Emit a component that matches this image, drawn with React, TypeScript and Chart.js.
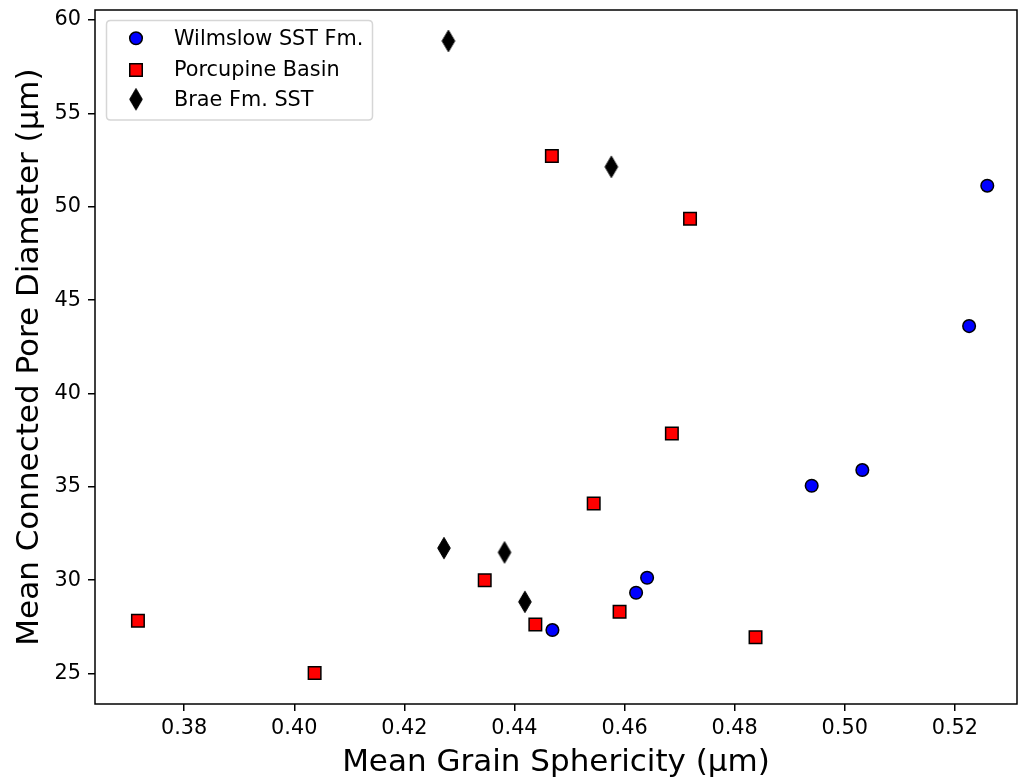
import React, { useEffect, useRef } from "react";
import { Chart, registerables } from "chart.js";

Chart.register(...registerables);

// ---- Data ----
const wilmslowX = [0.4469, 0.4621, 0.4641, 0.494, 0.5032, 0.5226, 0.5259];
const wilmslowY = [27.33, 29.33, 30.13, 35.06, 35.9, 43.61, 51.13];

const porcupineX = [0.3716, 0.4037, 0.4346, 0.4438, 0.4468, 0.4544, 0.4591, 0.4686, 0.4719, 0.4838];
const porcupineY = [27.83, 25.03, 30.0, 27.63, 52.72, 34.11, 28.31, 37.86, 49.36, 26.95];

const braeX = [0.4272, 0.428, 0.4382, 0.4419, 0.4576];
const braeY = [31.72, 58.88, 31.49, 28.84, 52.14];

const seriesNames = ["Wilmslow SST Fm.", "Porcupine Basin", "Brae Fm. SST"];

const xTicks = [0.38, 0.4, 0.42, 0.44, 0.46, 0.48, 0.5, 0.52];
const yTicks = [25, 30, 35, 40, 45, 50, 55, 60];

const xRange = [0.3638, 0.5313];
const yRange = [23.37, 60.54];

const xTitle = "Mean Grain Sphericity (µm)";
const yTitle = "Mean Connected Pore Diameter (µm)";

const FONT = "'DejaVu Sans', 'Liberation Sans', sans-serif";

function makeDiamond(): HTMLCanvasElement {
  const c = document.createElement("canvas");
  c.width = 16;
  c.height = 24;
  const g = c.getContext("2d")!;
  g.fillStyle = "#000";
  g.strokeStyle = "#000";
  g.lineWidth = 1;
  g.beginPath();
  g.moveTo(8, 1.3);
  g.lineTo(14.3, 12);
  g.lineTo(8, 22.7);
  g.lineTo(1.7, 12);
  g.closePath();
  g.fill();
  g.stroke();
  return c;
}

export default function App() {
  const ref = useRef<HTMLCanvasElement | null>(null);

  useEffect(() => {
    document.body.style.margin = "0";
    const canvas = ref.current!;
    const diamond = makeDiamond();

    const framePlugin = {
      id: "frameAndLegend",
      afterDraw(chart: any) {
        const { ctx, chartArea } = chart;
        ctx.save();
        // spines
        ctx.strokeStyle = "#000";
        ctx.lineWidth = 1.5;
        ctx.strokeRect(chartArea.left, chartArea.top, chartArea.right - chartArea.left, chartArea.bottom - chartArea.top);

        // legend box
        const bx = chartArea.left + 11.5;
        const by = chartArea.top + 10.5;
        const bw = 266;
        const bh = 99.5;
        const r = 4;
        ctx.beginPath();
        ctx.moveTo(bx + r, by);
        ctx.lineTo(bx + bw - r, by);
        ctx.quadraticCurveTo(bx + bw, by, bx + bw, by + r);
        ctx.lineTo(bx + bw, by + bh - r);
        ctx.quadraticCurveTo(bx + bw, by + bh, bx + bw - r, by + bh);
        ctx.lineTo(bx + r, by + bh);
        ctx.quadraticCurveTo(bx, by + bh, bx, by + bh - r);
        ctx.lineTo(bx, by + r);
        ctx.quadraticCurveTo(bx, by, bx + r, by);
        ctx.closePath();
        ctx.fillStyle = "rgba(255,255,255,0.8)";
        ctx.fill();
        ctx.strokeStyle = "#d6d6d6";
        ctx.lineWidth = 1.5;
        ctx.stroke();

        const mx = bx + 29.5;
        const rows = [by + 17.8, by + 49.5, by + 78.8];
        // circle
        ctx.beginPath();
        ctx.arc(mx, rows[0], 6.3, 0, Math.PI * 2);
        ctx.fillStyle = "blue";
        ctx.fill();
        ctx.strokeStyle = "#000";
        ctx.lineWidth = 1.5;
        ctx.stroke();
        // square
        ctx.beginPath();
        ctx.rect(mx - 6.25, rows[1] - 6.25, 12.5, 12.5);
        ctx.fillStyle = "red";
        ctx.fill();
        ctx.stroke();
        // diamond
        ctx.drawImage(diamond, mx - diamond.width / 2, rows[2] - diamond.height / 2);

        ctx.fillStyle = "#000";
        ctx.font = `20.8px ${FONT}`;
        ctx.textBaseline = "middle";
        ctx.textAlign = "left";
        seriesNames.forEach((n, i) => ctx.fillText(n, bx + 67.5, rows[i] + 1));
        ctx.restore();
      },
    };

    const chart = new Chart(canvas, {
      type: "scatter",
      data: {
        datasets: [
          {
            label: seriesNames[0],
            data: wilmslowX.map((x, i) => ({ x, y: wilmslowY[i] })),
            pointStyle: "circle",
            pointRadius: 6.3,
            pointBackgroundColor: "blue",
            pointBorderColor: "#000",
            pointBorderWidth: 1.5,
          },
          {
            label: seriesNames[1],
            data: porcupineX.map((x, i) => ({ x, y: porcupineY[i] })),
            pointStyle: "rect",
            pointRadius: 8.84,
            pointBackgroundColor: "red",
            pointBorderColor: "#000",
            pointBorderWidth: 1.5,
          },
          {
            label: seriesNames[2],
            data: braeX.map((x, i) => ({ x, y: braeY[i] })),
            pointStyle: diamond as any,
            pointRadius: 8,
            pointBackgroundColor: "#000",
            pointBorderColor: "#000",
          },
        ],
      },
      options: {
        responsive: false,
        animation: false,
        layout: { autoPadding: false, padding: { left: 0, right: 1, top: 10, bottom: 0 } },
        plugins: {
          legend: { display: false },
          tooltip: { enabled: false },
        },
        scales: {
          x: {
            type: "linear",
            min: xRange[0],
            max: xRange[1],
            afterBuildTicks: (s: any) => {
              s.ticks = xTicks.map((v) => ({ value: v }));
            },
            afterFit: (s: any) => {
              s.height = 78;
              s.paddingLeft = 0;
              s.paddingRight = 0;
            },
            border: { display: false },
            grid: {
              display: true,
              drawOnChartArea: false,
              drawTicks: true,
              tickLength: 7,
              color: "#000",
              lineWidth: 1.5,
            },
            ticks: {
              color: "#000",
              font: { family: FONT, size: 20.8 },
              padding: 5,
              maxRotation: 0,
              autoSkip: false,
              callback: (v: any) => Number(v).toFixed(2),
            },
            title: {
              display: true,
              text: xTitle,
              color: "#000",
              font: { family: FONT, size: 31 },
              padding: { top: 0, bottom: 0 },
            },
          },
          y: {
            type: "linear",
            min: yRange[0],
            max: yRange[1],
            afterBuildTicks: (s: any) => {
              s.ticks = yTicks.map((v) => ({ value: v }));
            },
            afterFit: (s: any) => {
              s.width = 95;
              s.paddingTop = 0;
              s.paddingBottom = 0;
            },
            border: { display: false },
            grid: {
              display: true,
              drawOnChartArea: false,
              drawTicks: true,
              tickLength: 7,
              color: "#000",
              lineWidth: 1.5,
            },
            ticks: {
              color: "#000",
              font: { family: FONT, size: 20.8 },
              padding: 7,
              autoSkip: false,
              callback: (v: any) => String(v),
            },
            title: {
              display: true,
              text: yTitle,
              color: "#000",
              font: { family: FONT, size: 31 },
              padding: { top: 11, bottom: 0 },
            },
          },
        },
      },
      plugins: [framePlugin],
    } as any);

    return () => chart.destroy();
  }, []);

  return (
    <div style={{ width: 1018, height: 782, background: "#fff" }}>
      <canvas ref={ref} width={1018} height={782} style={{ display: "block" }} />
    </div>
  );
}
